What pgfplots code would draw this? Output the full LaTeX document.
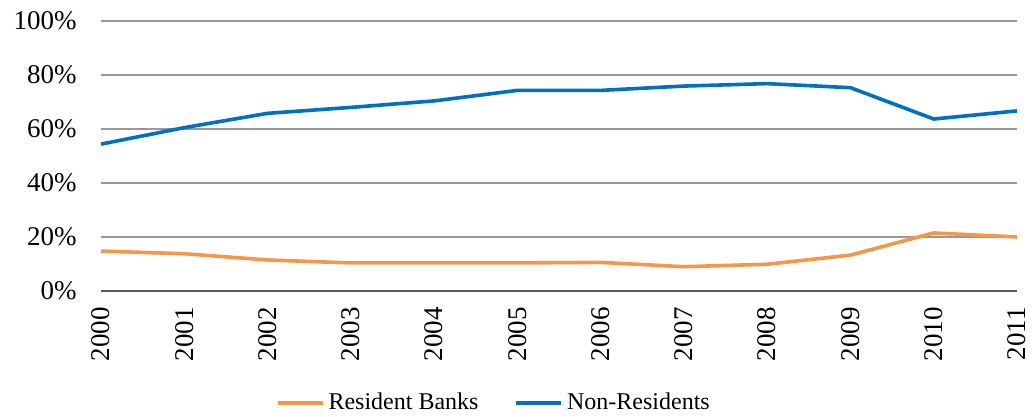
\documentclass[border=0pt]{standalone}
\usepackage{pgfplots}
\pgfplotsset{compat=1.18}
\usepackage{fontspec}
\setmainfont{Liberation Serif}
\definecolor{nrblue}{HTML}{0070C0}
\definecolor{rborange}{HTML}{F79646}
\pgfplotstableread{
year rb nr
2000 14.8 54.4
2001 13.8 60.5
2002 11.5 65.8
2003 10.4 68.0
2004 10.4 70.4
2005 10.4 74.3
2006 10.6 74.3
2007 9.0 75.9
2008 9.9 76.8
2009 13.3 75.3
2010 21.5 63.7
2011 20.0 66.7
}\datatable
\begin{document}
\begin{tikzpicture}
\begin{axis}[
  name=ax,
  scale only axis,
  width=458pt, height=135pt,
  xmin=2000, xmax=2011, ymin=0, ymax=100,
  axis lines*=left,
  y axis line style={draw=none},
  x axis line style={draw=gray!70!black, line width=0.8pt},
  ytick={0,20,...,100},
  yticklabel={\pgfmathprintnumber{\tick}\%},
  xtick={2000,...,2011},
  xticklabel={\pgfmathprintnumber[1000 sep={}]{\tick}},
  ymajorgrids,
  grid style={draw=gray!80, line width=0.6pt},
  major tick length=0pt,
  /pgf/number format/assume math mode=true,
  tick label style={font=\fontsize{13.5}{15}\selectfont},
  yticklabel style={anchor=east, inner sep=0pt, xshift=-12pt},
  xticklabel style={yshift=-8pt, rotate=90, anchor=east, inner sep=0pt},
  legend style={at={(axis description cs:0.43,-0.415)}, anchor=center, draw=none,
    fill=none, legend columns=2, font=\fontsize{12}{14}\selectfont,
    /tikz/every even column/.append style={column sep=16pt}},
  legend image code/.code={\draw[#1] (0pt,0pt) -- (22.5pt,0pt);},
]
\addplot[rborange, line width=1.8pt] table[x=year, y=rb] {\datatable};
\addlegendentry{Resident Banks}
\addplot[nrblue, line width=1.8pt] table[x=year, y=nr] {\datatable};
\addlegendentry{Non-Residents}
\end{axis}
\pgfresetboundingbox
\path[use as bounding box] ([xshift=-50.5pt,yshift=10.5pt]ax.north west) rectangle ([xshift=7.5pt,yshift=-63pt]ax.south east);
\end{tikzpicture}
\end{document}
